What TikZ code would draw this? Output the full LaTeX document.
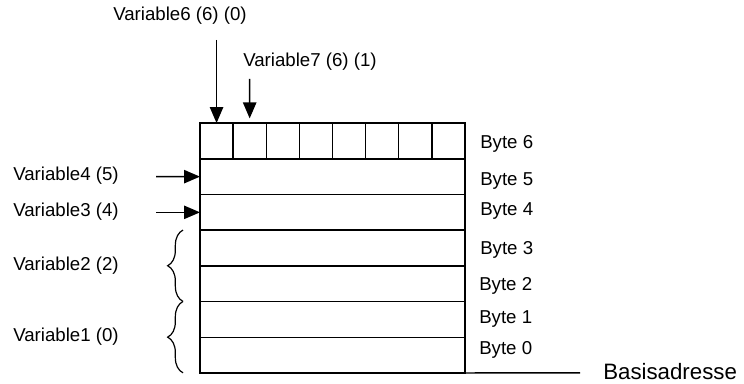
\documentclass[tikz,border=0pt]{standalone}
\usepackage{fontspec}
\setmainfont{Liberation Sans}
\usetikzlibrary{arrows.meta,decorations.pathreplacing}

\begin{document}
\begin{tikzpicture}[x=0.75pt,y=-0.75pt,
    bytebox/.style={draw, line width=1.1pt, minimum width=198.75pt, minimum height=26.775pt, inner sep=0pt, outer sep=0pt},
    bitbox/.style={draw, line width=1.1pt, minimum width=24.84pt, minimum height=26.775pt, inner sep=0pt, outer sep=0pt},
    lbl/.style={anchor=west, inner sep=0pt, font=\fontsize{14}{16}\selectfont},
    ptr/.style={-{Triangle[length=12pt,width=10pt]}, line width=1.1pt},
    brc/.style={decorate, decoration={brace, amplitude=11.5pt}, line width=0.9pt}]

    % Fix the margins
    \useasboundingbox (0,0) rectangle (744,384);

    % Draw the bytes
    \foreach \i in {0,...,6}
        \node[bytebox] (b\i) at (332.5,{355.15-35.7*\i}) {};

    % Split byte 6 into bits
    \foreach \j in {0,...,7}
        \node[bitbox] (bit\j) at ({216.56+33.125*\j},140.95) {};

    % Byte labels
    \foreach \i/\x/\y in {0/479/350, 1/479/319, 2/479/286, 3/480/250, 4/480/211, 5/480/181, 6/480/144}
        \node[lbl] (l\i) at (\x,\y) {Byte \i};

    % Base address
    \coordinate (base) at (580,372.85);
    \draw[line width=1.1pt] (b0.south east) -- (base);
    \node[lbl, font=\fontsize{16.7}{19}\selectfont] (basis) at (603,372) {Basisadresse};

    % Variable names
    \node[lbl] (v6) at (113,16) {Variable6 (6) (0)};
    \node[lbl] (v7) at (243,62) {Variable7 (6) (1)};
    \node[lbl] (v4) at (13,176) {Variable4 (5)};
    \node[lbl] (v3) at (13,212) {Variable3 (4)};
    \node[lbl] (v2) at (13,266) {Variable2 (2)};
    \node[lbl] (v1) at (13,337) {Variable1 (0)};

    % Pointer arrows
    \coordinate (p6) at (216.56,40);
    \coordinate (p7) at (249.69,79);
    \coordinate (p4) at (156,176.65);
    \coordinate (p3) at (156,212.35);
    \draw[ptr] (p6) -- (bit0.north);
    \draw[ptr, shorten >=3.5pt] (p7) -- (bit1.north);
    \draw[ptr] (p4) -- (b5.west);
    \draw[ptr] (p3) -- (b4.west);

    % Braces for the multi-byte variables
    \coordinate (v2top) at (183,230.05);
    \coordinate (v2bot) at (183,301.45);
    \coordinate (v1top) at (183,301.45);
    \coordinate (v1bot) at (183,372.85);
    \draw[brc] (v2bot) -- (v2top);
    \draw[brc] (v1bot) -- (v1top);
\end{tikzpicture}
\end{document}
